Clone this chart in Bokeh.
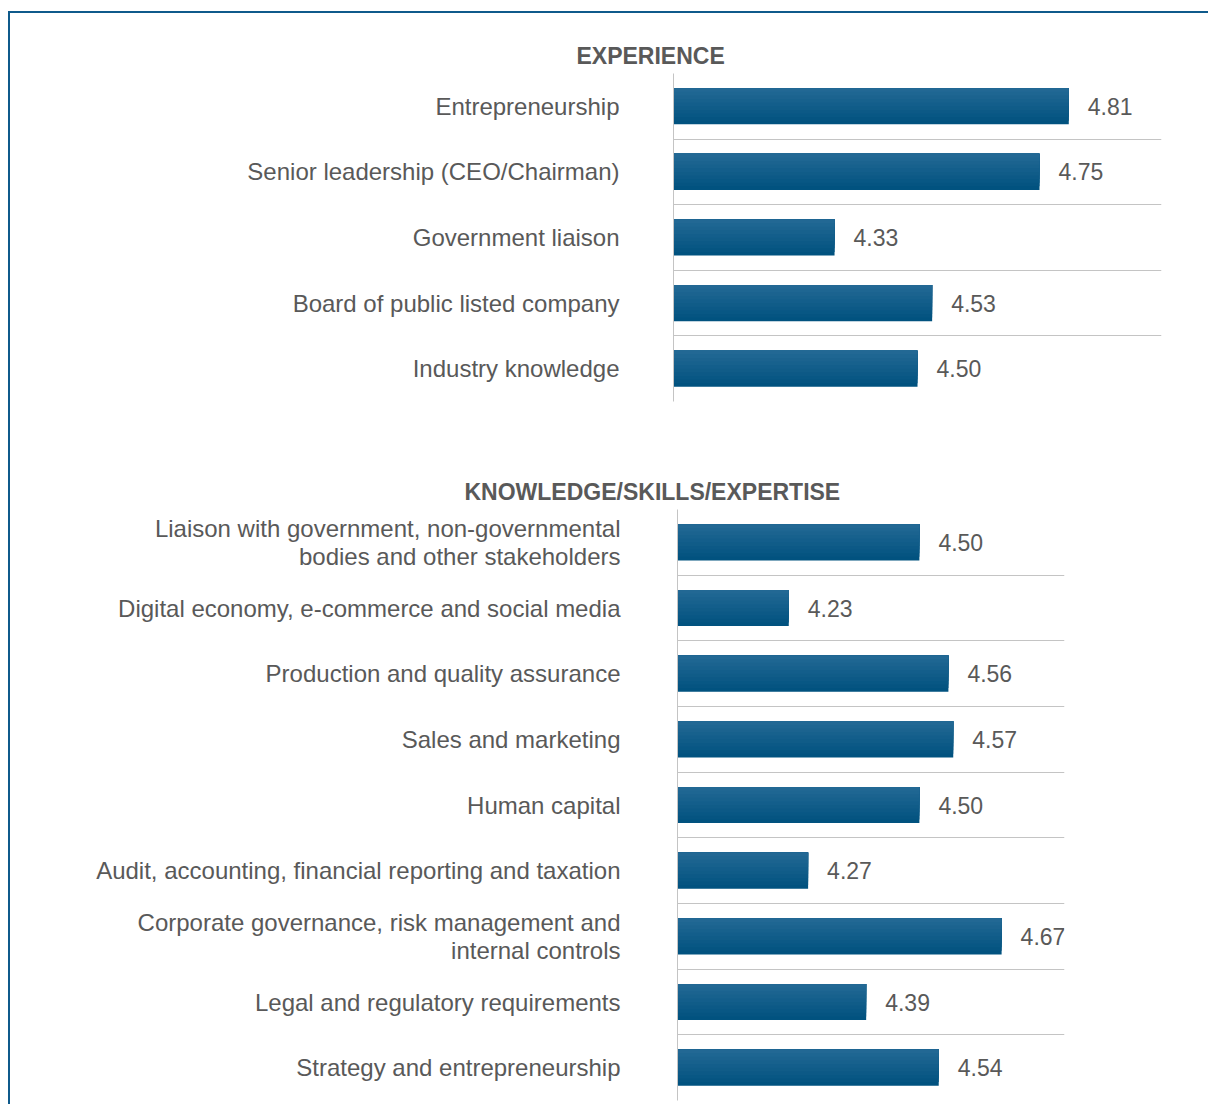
from bokeh.plotting import figure
from bokeh.models import Range1d, FixedTicker, Title, LinearAxis
from bokeh.core.properties import value
from bokeh.embed import file_html
from bokeh.resources import INLINE

# ---- data ----
exp_title = "EXPERIENCE"
exp_labels = ["Entrepreneurship", "Senior leadership (CEO/Chairman)", "Government liaison",
              "Board of public listed company", "Industry knowledge"]
exp_values = [4.81, 4.75, 4.33, 4.53, 4.50]
exp_range = (4.0, 5.0)

ks_title = "KNOWLEDGE/SKILLS/EXPERTISE"
ks_labels = ["Liaison with government, non-governmental\nbodies and other stakeholders",
             "Digital economy, e-commerce and social media",
             "Production and quality assurance",
             "Sales and marketing",
             "Human capital",
             "Audit, accounting, financial reporting and taxation",
             "Corporate governance, risk management and\ninternal controls",
             "Legal and regulatory requirements",
             "Strategy and entrepreneurship"]
ks_values = [4.50, 4.23, 4.56, 4.57, 4.50, 4.27, 4.67, 4.39, 4.54]
ks_range = (4.0, 4.8)

FONT = "Liberation Sans"
TXT = "#595959"
GRID = "#c4c4c4"
BORDER = "2px solid #0f5a8b"
DARK = (0x01, 0x52, 0x7f)
LIGHT = (0x22, 0x68, 0x94)


def hexcol(c):
    return "#%02x%02x%02x" % c


def make_chart(title, labels, values, xr, width, height, frame_left, frame_w,
               mb_top, mb_bottom, title_gap, title_offset, label_standoff, margin, styles):
    n = len(labels)
    centers = [n - i for i in range(n)]
    p = figure(width=width, height=height, output_backend="svg", toolbar_location=None,
               x_range=Range1d(*xr), y_range=Range1d(0.5, n + 0.5),
               min_border_left=frame_left, min_border_right=width - frame_left - frame_w,
               min_border_top=mb_top, min_border_bottom=mb_bottom,
               margin=margin, styles=styles)
    p.title = None
    p.outline_line_color = None
    p.xaxis.visible = False
    p.xgrid.grid_line_color = None
    p.ygrid.ticker = FixedTicker(ticks=[k + 0.5 for k in range(n + 1)])
    p.ygrid.grid_line_color = GRID
    p.ygrid.grid_line_width = 1
    ax = p.yaxis[0]
    ax.ticker = FixedTicker(ticks=centers)
    ax.major_label_overrides = {c: l for c, l in zip(centers, labels)}
    ax.major_tick_line_color = None
    ax.minor_tick_line_color = None
    ax.axis_line_color = GRID
    ax.major_label_standoff = label_standoff
    ax.major_label_text_font = FONT
    ax.major_label_text_font_size = "24px"
    ax.major_label_text_color = TXT
    ax.major_label_text_line_height = 1.06

    bh = 0.55
    steps = 10
    for k in range(steps):
        h = bh * (1 - k / steps)
        t = k / (steps - 1)
        col = tuple(int(round(DARK[j] + (LIGHT[j] - DARK[j]) * t)) for j in range(3))
        p.hbar(y=[c + bh / 2 - h / 2 for c in centers], left=xr[0], right=values,
               height=h, fill_color=hexcol(col), line_color=None)

    p.text(x=values, y=centers, text=["%.2f" % v for v in values], x_offset=19,
           text_baseline="middle", text_align="left", text_font_size="23px",
           text_font=value(FONT), text_color=TXT)

    t = Title(text=title, align="left", offset=title_offset, standoff=10,
              text_font=FONT, text_font_size="23px", text_font_style="bold",
              text_color=TXT)
    p.add_layout(t, "above")

    # invisible spacer between title and plot frame
    spacer = LinearAxis(ticker=FixedTicker(ticks=[xr[0]]), major_label_overrides={xr[0]: ""},
                        major_tick_out=title_gap, major_tick_in=0,
                        minor_tick_out=0, minor_tick_in=0,
                        major_tick_line_color="white", major_tick_line_alpha=0,
                        minor_tick_line_color=None, axis_line_color=None,
                        major_label_standoff=0, major_label_text_font_size="1px",
                        major_label_text_alpha=0)
    p.add_layout(spacer, "above")
    return p


p1 = make_chart(exp_title, exp_labels, exp_values, exp_range,
                width=1200, height=418, frame_left=663, frame_w=488,
                mb_top=60, mb_bottom=30, title_gap=22, title_offset=-97, label_standoff=48,
                margin=(11, 0, 0, 8),
                styles={"border-left": BORDER, "border-top": BORDER})
p2 = make_chart(ks_title, ks_labels, ks_values, ks_range,
                width=1200, height=675, frame_left=667, frame_w=387,
                mb_top=80, mb_bottom=4, title_gap=23, title_offset=-213, label_standoff=51,
                margin=(0, 0, 0, 8),
                styles={"border-left": BORDER})

open("out.html", "w").write(file_html([p1, p2], INLINE))
